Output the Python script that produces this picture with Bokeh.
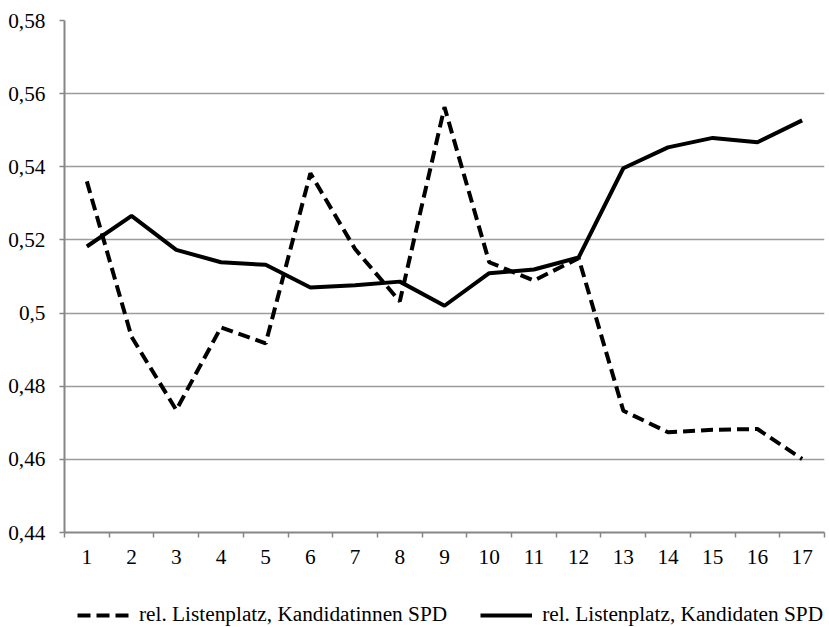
from bokeh.plotting import figure
from bokeh.layouts import column
from bokeh.models import Range1d, FixedTicker, Legend, LegendItem
from bokeh.embed import file_html
from bokeh.resources import INLINE

positions = list(range(1, 18))
kandidatinnen = [0.536, 0.4935, 0.4735, 0.4961, 0.4917, 0.5382, 0.5175, 0.5032, 0.5563,
                 0.5139, 0.5089, 0.5150, 0.4733, 0.4674, 0.4681, 0.4683, 0.4601]
kandidaten = [0.5182, 0.5266, 0.5173, 0.5139, 0.5132, 0.5070, 0.5076, 0.5086, 0.5020,
              0.5109, 0.5119, 0.5152, 0.5396, 0.5453, 0.5479, 0.5467, 0.5527]
y_ticks = [0.44, 0.46, 0.48, 0.50, 0.52, 0.54, 0.56, 0.58]
y_tick_labels = ["0,44", "0,46", "0,48", "0,5", "0,52", "0,54", "0,56", "0,58"]
label_women = "rel. Listenplatz, Kandidatinnen SPD"
label_men = "rel. Listenplatz, Kandidaten SPD"

FONT = "Liberation Serif"
FS = "21.3px"
AXIS_COL = "#868686"
GRID_COL = "#9c9c9c"
DASH = "12 6"
LW = 4

p = figure(frame_width=760, frame_height=512, output_backend="svg", toolbar_location=None,
           x_range=Range1d(0.5, 17.5), y_range=Range1d(0.44, 0.58),
           min_border_left=64, min_border_right=5, min_border_top=20, min_border_bottom=44)
p.outline_line_color = None

p.xaxis.ticker = FixedTicker(ticks=positions, minor_ticks=[k + 0.5 for k in range(0, 18)])
p.xaxis.major_tick_line_color = None
p.xaxis.minor_tick_line_color = AXIS_COL
p.xaxis.minor_tick_line_width = 1.5
p.xaxis.minor_tick_in = 0
p.xaxis.minor_tick_out = 5
p.xaxis.axis_line_color = AXIS_COL
p.xaxis.axis_line_width = 2
p.xaxis.major_label_standoff = 11
p.xaxis.major_label_text_font = FONT
p.xaxis.major_label_text_font_size = FS
p.xaxis.major_label_text_color = "black"

p.yaxis.ticker = FixedTicker(ticks=y_ticks, minor_ticks=[])
p.yaxis.major_label_overrides = {t: l for t, l in zip(y_ticks, y_tick_labels)}
p.yaxis.major_tick_line_color = AXIS_COL
p.yaxis.major_tick_line_width = 1.5
p.yaxis.major_tick_in = 0
p.yaxis.major_tick_out = 5
p.yaxis.minor_tick_line_color = None
p.yaxis.axis_line_color = AXIS_COL
p.yaxis.axis_line_width = 2
p.yaxis.major_label_standoff = 14
p.yaxis.major_label_text_font = FONT
p.yaxis.major_label_text_font_size = FS
p.yaxis.major_label_text_color = "black"

p.xgrid.grid_line_color = None
p.ygrid.grid_line_color = GRID_COL
p.ygrid.grid_line_width = 1.5

p.line(positions, kandidatinnen, line_color="black", line_width=LW, line_dash=DASH)
p.line(positions, kandidaten, line_color="black", line_width=LW)

# legend strip below the chart (its series lie outside its visible range)
lg = figure(width=829, height=51, output_backend="svg", toolbar_location=None,
            x_axis_type=None, y_axis_type=None,
            min_border_left=64, min_border_right=5, min_border_top=0, min_border_bottom=0,
            x_range=Range1d(0.5, 17.5), y_range=Range1d(10, 11))
lg.outline_line_color = None
lg.xgrid.grid_line_color = None
lg.ygrid.grid_line_color = None
lr1 = lg.line(positions, kandidatinnen, line_color="black", line_width=LW, line_dash="13 6")
lr2 = lg.line(positions, kandidaten, line_color="black", line_width=LW)
legend = Legend(items=[LegendItem(label=label_women, renderers=[lr1]),
                       LegendItem(label=label_men, renderers=[lr2])],
                orientation="horizontal", location=(13, 0),
                glyph_width=52, glyph_height=20, label_standoff=10, spacing=33,
                padding=0, margin=0, border_line_color=None, background_fill_alpha=0,
                label_text_font=FONT, label_text_font_size=FS, label_text_color="black")
lg.add_layout(legend, "center")

layout = column(p, lg, spacing=0)
open("out.html", "w").write(file_html(layout, INLINE))
